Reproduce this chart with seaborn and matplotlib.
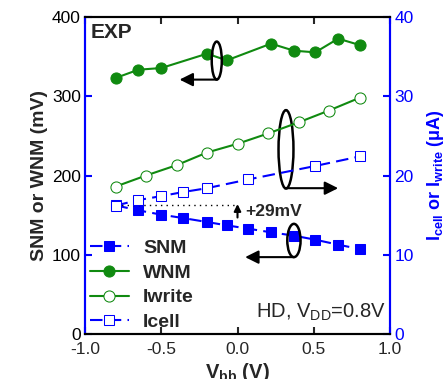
"""
SRAM margins vs back bias, HD cell
"""

import matplotlib
matplotlib.use("Agg")
import matplotlib.pyplot as plt
import seaborn as sns
from matplotlib.patches import Ellipse

# data
snm_x = [-0.8, -0.65, -0.5, -0.36, -0.2, -0.07, 0.07, 0.22, 0.37, 0.51, 0.66, 0.8]
snm_y = [162.4, 156, 150.6, 146.4, 141.3, 137.1, 132.9, 128.3, 124.1, 119, 112.7, 107.3]

wnm_x = [-0.8, -0.65, -0.5, -0.2, -0.07, 0.22, 0.37, 0.51, 0.66, 0.8]
wnm_y = [323, 333.5, 335.6, 353.7, 345.3, 366.4, 357.5, 355.4, 372.7, 364.7]

iwrite_x = [-0.8, -0.6, -0.4, -0.2, 0.0, 0.2, 0.4, 0.6, 0.8]
iwrite_y = [18.6, 20.0, 21.3, 22.9, 24.0, 25.3, 26.7, 28.2, 29.8]

icell_x = [-0.8, -0.65, -0.5, -0.36, -0.2, 0.07, 0.51, 0.8]
icell_y = [16.2, 16.9, 17.4, 17.9, 18.4, 19.5, 21.2, 22.4]

xticks = [-1.0, -0.5, 0.0, 0.5, 1.0]
left_ticks = [0, 100, 200, 300, 400]
right_ticks = [0, 10, 20, 30, 40]

GREEN = "#108a10"
BLUE = "#0000ff"

sns.set_style("ticks")
plt.rcParams["font.family"] = ["Liberation Sans", "DejaVu Sans"]
plt.rcParams["mathtext.fontset"] = "custom"
plt.rcParams["mathtext.rm"] = "Liberation Sans"
plt.rcParams["mathtext.bf"] = "Liberation Sans:bold"

fig = plt.figure(figsize=(4.48, 3.79), dpi=100)
ax = fig.add_axes([85 / 448, 1 - 334 / 379, 305 / 448, 317 / 379])
ax2 = ax.twinx()

dash = (0, (6, 3))
sns.lineplot(x=snm_x, y=snm_y, ax=ax, color=BLUE, marker="s", markersize=6.5,
             markeredgecolor=BLUE, linestyle=dash, lw=1.5, label="SNM", legend=False)
sns.lineplot(x=wnm_x, y=wnm_y, ax=ax, color=GREEN, marker="o", markersize=8,
             markeredgecolor=GREEN, lw=1.5, label="WNM", legend=False)
sns.lineplot(x=iwrite_x, y=iwrite_y, ax=ax2, color=GREEN, marker="o", markersize=8,
             markerfacecolor="white", markeredgecolor=GREEN, lw=1.5,
             label="Iwrite", legend=False)
sns.lineplot(x=icell_x, y=icell_y, ax=ax2, color=BLUE, marker="s", markersize=6.5,
             markerfacecolor="white", markeredgecolor=BLUE, linestyle=dash, lw=1.5,
             label="Icell", legend=False)

ax.set_xlim(-1.0, 1.0)
ax.set_ylim(0, 400)
ax2.set_ylim(0, 40)
ax.set_xticks(xticks)
ax.set_xticklabels([f"{t:.1f}" for t in xticks])
ax.set_yticks(left_ticks)
ax2.set_yticks(right_ticks)

for a in (ax, ax2):
    for s in a.spines.values():
        s.set_linewidth(1.5)
        s.set_color("black")
    a.spines["left"].set_color(BLUE)
    a.spines["right"].set_color(BLUE)
    a.spines["top"].set_visible(True)
    a.spines["right"].set_visible(True)

ax.tick_params(axis="x", direction="in", length=5, width=1.5, labelsize=12.5,
               top=True, pad=6)
ax.tick_params(axis="y", direction="in", length=5, width=1.5, labelsize=12.5,
               color=BLUE, labelcolor="black", pad=3)
ax2.tick_params(axis="y", direction="in", length=5, width=1.5, labelsize=12.5,
                color=BLUE, labelcolor=BLUE, pad=3)

ax.set_xlabel(r"V$_{\mathbf{bb}}$ (V)", fontsize=14.5, fontweight="bold", labelpad=3)
ax.set_ylabel("SNM or WNM (mV)", fontsize=14, fontweight="bold", labelpad=3)
ax2.set_ylabel(r"I$_{\mathbf{cell}}$ or I$_{\mathbf{write}}$ ($\mathbf{\mu}$A)",
               fontsize=13, fontweight="bold", color=BLUE, rotation=90, labelpad=8)

# legend (lines live on two axes)
handles = ax.get_lines()[:2] + ax2.get_lines()[:2]
leg = ax.legend(handles, ["SNM", "WNM", "Iwrite", "Icell"], loc="lower left",
                frameon=False, prop={"weight": "bold", "size": 14},
                handlelength=2.0, handletextpad=0.75, labelspacing=0.36,
                borderaxespad=0.0, bbox_to_anchor=(-0.01, -0.015))
leg.set_zorder(5)

# annotations
ax.text(-0.96, 381, "EXP", fontsize=15, fontweight="bold", va="center", ha="left")
ax.text(0.97, 27, r"HD, V$_{\mathrm{DD}}$=0.8V", fontsize=14.5, ha="right", va="center")

ax.plot([-0.8, 0.0], [162.4, 162.4], color="black", ls=(0, (1, 3)), lw=1)
ax.annotate("", xy=(0.0, 164), xytext=(0.0, 147),
            arrowprops=dict(arrowstyle="-|>", color="black", lw=1.5,
                            mutation_scale=10, shrinkA=0, shrinkB=0))
ax.text(0.05, 154, "+29mV", fontsize=12.5, fontweight="bold", va="center", ha="left")

# ellipses with arrows pointing to their axis
ellipses = [
    (-0.136, 345, 0.066, 48, 321, -0.38),
    (0.318, 233, 0.098, 99, 184, 0.66),
    (0.37, 118, 0.087, 42, 97, 0.05),
]
for cx, cy, w, h, ay, ax_end in ellipses:
    ax.add_patch(Ellipse((cx, cy), w, h, fill=False, ec="black", lw=1.8, zorder=6))
    ax.annotate("", xy=(ax_end, ay), xytext=(cx, ay),
                arrowprops=dict(arrowstyle="-|>", color="black", lw=1.5,
                                mutation_scale=20, shrinkA=0, shrinkB=0),
                zorder=6)

fig.savefig("out.png", dpi=100)
plt.close()
